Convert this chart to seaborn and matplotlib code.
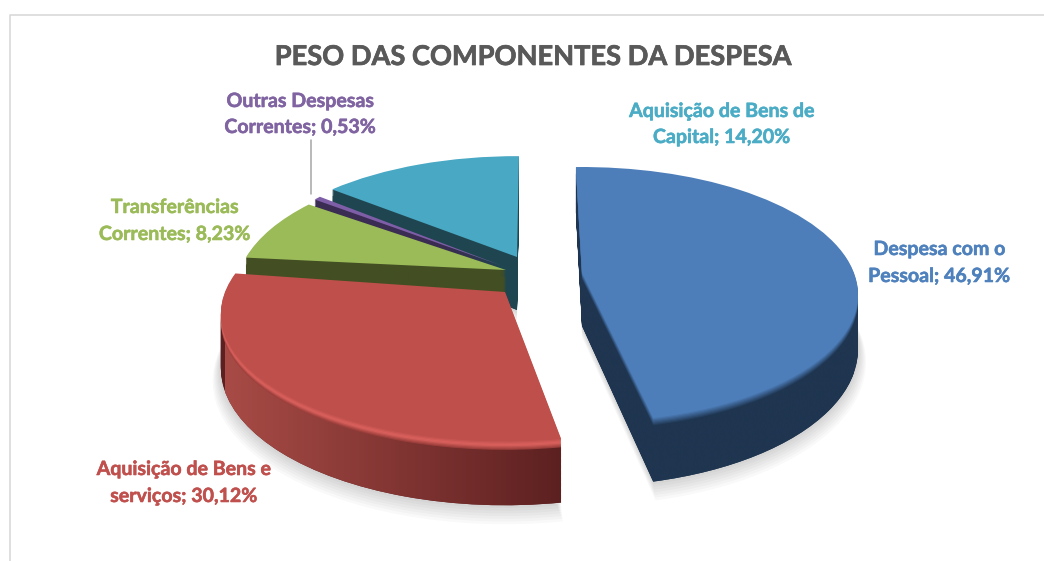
import numpy as np
import matplotlib
matplotlib.use("Agg")
import matplotlib.pyplot as plt
import matplotlib.patheffects as pe
from matplotlib.path import Path
from matplotlib.transforms import Transform
import seaborn as sns

# dados do gráfico (%)
categorias = ["Despesa com o\nPessoal", "Aquisição de Bens e\nserviços", "Transferências\nCorrentes",
              "Outras Despesas\nCorrentes", "Aquisição de Bens de\nCapital"]
valores = [46.91, 30.12, 8.23, 0.53, 14.20]
rotulos = ["46,91%", "30,12%", "8,23%", "0,53%", "14,20%"]
titulo = "PESO DAS COMPONENTES DA DESPESA"

# estilo de cada fatia, pela mesma ordem
cores = ["#4f81bd", "#c0504d", "#9bbb59", "#8064a2", "#4bacc6"]
topo = ["#4d7eba", "#bf4f4b", "#9bbb59", "#7f5ea8", "#49a8c4"]
lado_esq = ["#1f3550", "#a84b46", "#434f23", "#3a2c52", "#1f4650"]
lado_dir = ["#1f3550", "#5c2020", "#434f23", "#3a2c52", "#1f4650"]
chanfro = [["#1f3550", "#4d7eba"], ["#9c3f3c", "#dc625e", "#bf4f4b"], None, None, None]
ordem = [5, 4, 3, 2, 1]  # de trás para a frente
# vértice, raios e pequeno giro de cada fatia em pixéis/graus
vertices = [(582, 273), (505, 292), (506, 270), (500, 265), (517, 257)]
raios_x = [272, 280, 266, 250, 265]
raios_y = [124, 124, 124, 124, 118]
giros = [0, -3, 0, 0, -2]
persp = 0.17
profundidade = 53
n_chanfro = 8
inicio = 91.5
# centro x e y das duas linhas de cada rótulo
pos_rotulos = [(939.5, 249, 276), (184, 469, 496), (175, 207, 234), (300.5, 101, 127), (722, 111, 137)]


class Perspetiva(Transform):
    input_dims = output_dims = 2

    def __init__(self, i, prof):
        super().__init__()
        self.i, self.prof = i, prof

    def transform_non_affine(self, xy):
        xy = np.asarray(xy, dtype=float)
        vx, vy = vertices[self.i]
        a = np.radians(giros[self.i])
        x = xy[:, 0] * np.cos(a) - xy[:, 1] * np.sin(a)
        y = xy[:, 0] * np.sin(a) + xy[:, 1] * np.cos(a)
        w = 1 + persp * y
        return np.column_stack([vx + raios_x[self.i] * x / w,
                                vy - (raios_y[self.i] * y - self.prof) / w])


sns.set_theme(style="white")
plt.rcParams["font.family"] = ["Lato", "DejaVu Sans"]

fig = plt.figure(figsize=(10.44, 5.61), dpi=100)
ax = fig.add_axes([0, 0, 1, 1])


def camada(prof, z, raio=1.0):
    fatias, _ = ax.pie(valores, startangle=inicio, counterclock=False, radius=raio, colors=cores)
    for i, f in enumerate(fatias):
        f.set_transform(Perspetiva(i, prof) + ax.transData)
        f.set_zorder(ordem[i] * 1000 + z)
        f.set_linewidth(0)
    return fatias


# sombra suave por baixo de cada fatia
for s in range(1, 8):
    for f in camada(profundidade + s * 1.6, s, raio=1 + 0.004 * s):
        f.set_facecolor("#000000")
        f.set_alpha(0.022)

# lados: pilha de fatias com gradiente por cima
caminhos = [[] for _ in valores]
for d in np.arange(profundidade, n_chanfro - 1, -1.0):
    for i, f in enumerate(camada(d, 20)):
        f.set_facecolor(lado_dir[i])
        caminhos[i].append(f.get_path().transformed(Perspetiva(i, d)))

for i in range(len(valores)):
    cmap = sns.blend_palette([lado_esq[i], lado_dir[i]], n_colors=128, as_cmap=True)
    vx = vertices[i][0]
    fim = vx + 60 if i == 1 else vx + raios_x[i]
    im = ax.imshow(np.linspace(0, 1, 256)[None, :], cmap=cmap, aspect="auto", interpolation="bilinear",
                   extent=(vx - raios_x[i], fim, 561, 0), zorder=ordem[i] * 1000 + 30)
    im.set_clip_path(Path.make_compound_path(*caminhos[i]), ax.transData)

# chanfro e topo
for k, d in enumerate(range(n_chanfro - 1, -1, -1)):
    fatias = camada(d, 40 + k)
    for i, f in enumerate(fatias):
        if chanfro[i] is None:
            f.set_facecolor(topo[i] if d == 0 else lado_dir[i])
        else:
            f.set_facecolor(sns.blend_palette(chanfro[i], n_colors=n_chanfro)[k])

ax.set_aspect("auto")
ax.set_xlim(0, 1044)
ax.set_ylim(561, 0)
ax.set_axis_off()

# moldura e linha de ligação
ax.plot([9.5, 9.5, 1044], [561, 14.5, 14.5], color="#d9d9d9", lw=1.2, zorder=1)
ax.plot([310.5, 310.5], [140, 194], color="#a6a6a6", lw=1.1, zorder=6000)

ax.text(533.5, 57, titulo, ha="center", va="center", fontsize=19.6, fontweight="bold", color="#595959",
        path_effects=[pe.withStroke(linewidth=0.5, foreground="#595959")])
for i, nome in enumerate(categorias):
    x, y1, y2 = pos_rotulos[i]
    linha1, linha2 = nome.split("\n")
    for y, t in [(y1, linha1), (y2, f"{linha2}; {rotulos[i]}")]:
        ax.text(x, y, t, ha="center", va="center", fontsize=14.1, fontweight="bold", color=cores[i],
                zorder=7000, path_effects=[pe.withStroke(linewidth=0.4, foreground=cores[i])])

fig.savefig("out.png", dpi=100)
